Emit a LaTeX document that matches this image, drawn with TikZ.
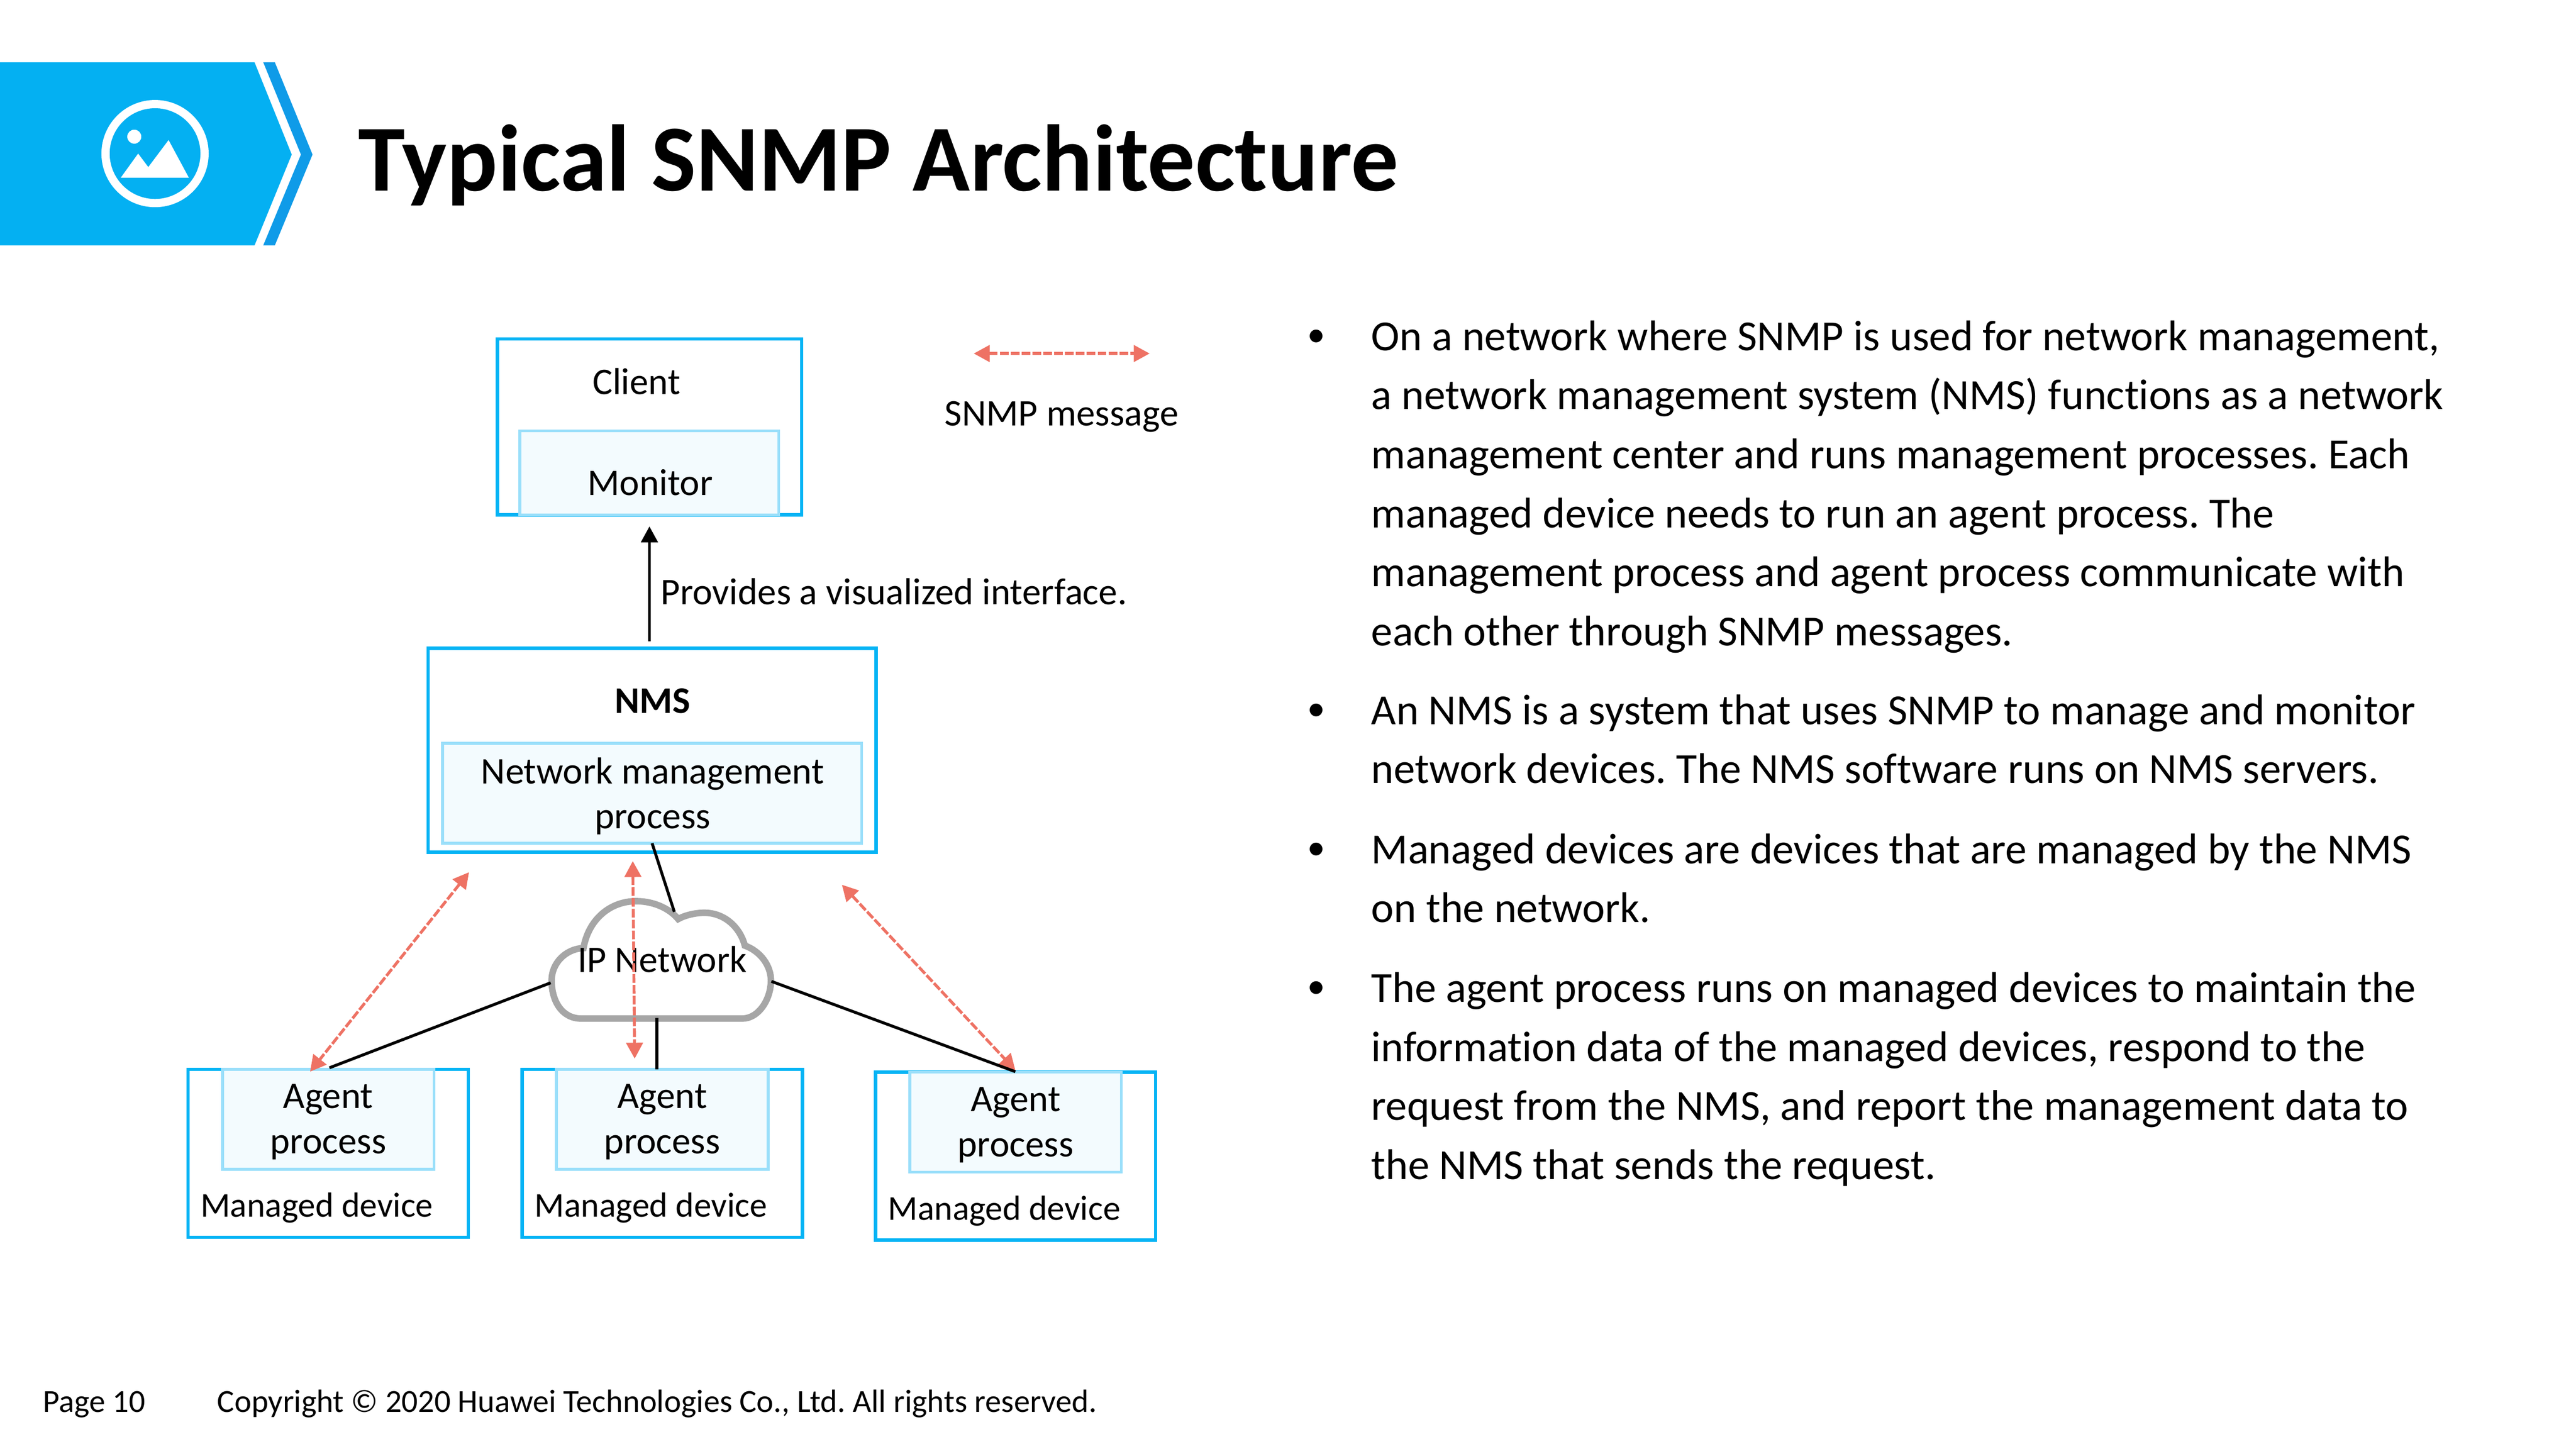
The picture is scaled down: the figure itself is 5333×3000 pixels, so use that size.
\documentclass[tikz,border=0pt]{standalone}
\usepackage{fontspec}
\setmainfont{Carlito}[Ligatures=NoCommon]
\usetikzlibrary{arrows.meta}
\newdimen\px
\px=0.24pt
\definecolor{bannerblue}{HTML}{04B0F2}
\definecolor{chevblue}{HTML}{0F9BE8}
\definecolor{boxblue}{HTML}{06B4F5}
\definecolor{innerblue}{HTML}{9ADFFA}
\definecolor{innerfill}{HTML}{F3FBFE}
\definecolor{msgred}{HTML}{EE7264}
\definecolor{cloudgray}{HTML}{A6A6A6}
\tikzset{
    outerbox/.style={draw=boxblue,fill=white,line width=7\px,inner sep=0pt,outer sep=0pt},
    innerbox/.style={draw=innerblue,fill=innerfill,line width=6\px,inner sep=0pt,outer sep=0pt},
    lbl/.style={font=\fontsize{18.67pt}{22.4pt}\selectfont,inner sep=0pt,outer sep=0pt},
    para/.style={font=\fontsize{21.33pt}{29.35pt}\selectfont,align=left,inner sep=0pt,outer sep=0pt,anchor=base west},
    dotmark/.style={font=\fontsize{18pt}{24pt}\selectfont,inner sep=0pt,outer sep=0pt,anchor=base},
    foot/.style={font=\fontsize{16pt}{18pt}\selectfont,inner sep=0pt,outer sep=0pt,anchor=base west},
    linkline/.style={draw=black,line width=6\px},
    msgarrow/.style={draw=msgred,line width=6\px,dash pattern=on 18\px off 4.5\px,{Triangle[length=7.9pt,width=8.2pt]}-{Triangle[length=7.9pt,width=8.2pt]}},
}
\frenchspacing
\begin{document}
\begin{tikzpicture}[x=0.24pt,y=-0.24pt]
    \useasboundingbox (0,0) rectangle (5333,3000);

    % title bar
    \fill[bannerblue] (0,129) -- (527,129) -- (604,320) -- (527,508) -- (0,508) -- cycle;
    \fill[chevblue] (545,129) -- (569,129) -- (647,320) -- (569,508) -- (545,508) -- (623,320) -- cycle;
    \draw[white,line width=17\px] (321,318) circle (102.5);
    \fill[white] (278,283) circle (14.5);
    \fill[white] (250,368) -- (286,318) -- (307,346) -- (349,290) -- (391,368) -- cycle;
    \node[font=\fontsize{47pt}{56pt}\selectfont\bfseries,inner sep=0pt,anchor=base west] (title) at (741,395) {Typical SNMP Architecture};

    % client and nms
    \node[outerbox,minimum width=630\px,minimum height=364\px] (client) at (1344.5,884) {};
    \node[innerbox,minimum width=536\px,minimum height=174\px] (monitor) at (1344,979) {};
    \node[lbl,anchor=base] (clienttxt) at (1318,816) {Client};
    \node[lbl,anchor=base] (monitortxt) at (1346,1025) {Monitor};
    \node[outerbox,minimum width=927\px,minimum height=422\px] (nms) at (1350,1553.5) {};
    \node[innerbox,minimum width=868\px,minimum height=207\px] (nmsproc) at (1350,1642.5) {};
    \node[lbl,anchor=base,font=\fontsize{18.67pt}{22.4pt}\selectfont\bfseries] (nmstxt) at (1351,1477) {NMS};
    \node[lbl,anchor=base] (proctxta) at (1351,1623) {Network management};
    \node[lbl,anchor=base] (proctxtb) at (1351,1716) {process};
    \node[lbl,anchor=base west] (provides) at (1368,1252) {Provides a visualized interface.};
    \draw[linkline,-{Triangle[length=7.9pt,width=8.2pt]},shorten <=15\px,shorten >=24\px] (nms.north -| client.south) -- (client.south);

    % managed devices
    \foreach \dev/\cx/\dy in {1/679.5/0,2/1371/0,3/2102.5/6}{
        \node[outerbox,minimum width=580\px,minimum height=348\px] (device\dev) at (\cx,2388+\dy) {};
        \node[innerbox,minimum width=438\px,minimum height=207\px] (agent\dev) at (\cx,2317.5+\dy) {};
        \node[lbl,anchor=base] (agenttxt\dev) at (\cx,2295+\dy) {Agent};
        \node[lbl,anchor=base] (processtxt\dev) at (\cx,2389+\dy) {process};
        \node[lbl,anchor=base west,font=\fontsize{17.33pt}{20pt}\selectfont] (devicetxt\dev) at (\cx-264.5,2520+\dy) {Managed device};
    }

    % ip network
    \draw[draw=cloudgray,fill=white,line width=13.5\px] (1203,2109)
        .. controls (1165,2109) and (1142,2075) .. (1142,2030)
        .. controls (1142,1995) and (1170,1965) .. (1208,1963)
        .. controls (1218,1905) and (1262,1866) .. (1317,1866)
        .. controls (1352,1866) and (1385,1880) .. (1404,1903)
        .. controls (1418,1895) and (1440,1890) .. (1458,1890)
        .. controls (1500,1890) and (1532,1920) .. (1542,1958)
        .. controls (1575,1970) and (1596,2000) .. (1596,2030)
        .. controls (1596,2070) and (1570,2109) .. (1537,2109) -- cycle;
    \node[lbl,anchor=base] (cloudtxt) at (1371,2013) {IP Network};
    \coordinate (cloudtop) at (1396,1888);
    \coordinate (cloudleft) at (1140,2035);
    \coordinate (cloudright) at (1597,2032);
    \coordinate (cloudbottom) at (1360,2108);
    \coordinate (linkleft) at (682,2211);
    \coordinate (linkmid) at (1360,2214);
    \coordinate (linkright) at (2102,2219);

    % snmp messages
    \coordinate (msgna) at (971,1806);
    \coordinate (msgda) at (642,2219);
    \coordinate (msgnb) at (1310,1783);
    \coordinate (msgdb) at (1314,2192);
    \coordinate (msgnc) at (1743,1832);
    \coordinate (msgdc) at (2102,2216);
    \draw[msgarrow] (msgna) -- (msgda);
    \draw[msgarrow] (msgnb) -- (msgdb);
    \draw[msgarrow] (msgnc) -- (msgdc);

    \draw[linkline] (nmsproc.south) -- (cloudtop);
    \draw[linkline] (cloudleft) -- (linkleft);
    \draw[linkline] (cloudbottom) -- (linkmid);
    \draw[linkline] (cloudright) -- (linkright);

    % legend
    \coordinate (legenda) at (2016,732);
    \coordinate (legendb) at (2380,732);
    \draw[msgarrow] (legenda) -- (legendb);
    \node[lbl,anchor=base] (legendtxt) at (2198,882) {SNMP message};

    % text on the right
    \foreach \y in {717,1492,1780,2067}{
        \node[dotmark] (dot\y) at (2725,\y) {•};
    }
    \node[para] (paraa) at (2839,1337) {On a network where SNMP is used for network management,\\a network management system (NMS) functions as a network\\management center and runs management processes. Each\\managed device needs to run an agent process. The\\management process and agent process communicate with\\each other through SNMP messages.};
    \node[para] (parab) at (2839,1622) {An NMS is a system that uses SNMP to manage and monitor\\network devices. The NMS software runs on NMS servers.};
    \node[para] (parac) at (2839,1910) {Managed devices are devices that are managed by the NMS\\on the network.};
    \node[para] (parad) at (2839,2442) {The agent process runs on managed devices to maintain the\\information data of the managed devices, respond to the\\request from the NMS, and report the management data to\\the NMS that sends the request.};

    % footer
    \node[foot] (pagetxt) at (89,2924) {Page 10};
    \node[foot] (copytxt) at (450,2924) {Copyright © 2020 Huawei Technologies Co., Ltd. All rights reserved.};
\end{tikzpicture}
\end{document}
